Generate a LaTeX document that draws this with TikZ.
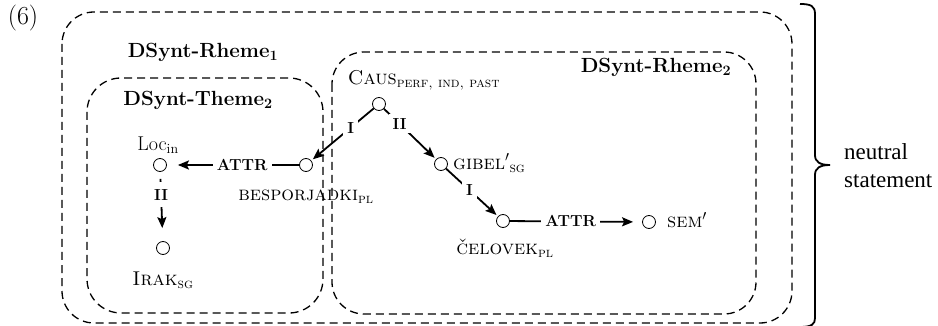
\documentclass[tikz,border=0pt]{standalone}
\usepackage{fontspec}
\newfontfamily\timesf{Liberation Serif}
\usetikzlibrary{arrows.meta}
\begin{document}
\begin{tikzpicture}[x=1pt,y=-1pt,
  dbox/.style={line width=1.3pt, dash pattern=on 8pt off 5pt},
  vert/.style={circle, draw, line width=0.8pt, minimum size=13pt, inner sep=0pt},
  lbl/.style={font=\fontsize{20}{23}\selectfont, inner sep=1pt},
  title/.style={font=\fontsize{20.5}{24}\selectfont\bfseries, inner sep=0pt},
  elabel/.style={font=\fontsize{16}{19}\selectfont\bfseries, fill=white, inner sep=4pt},
  rel/.style={line width=1.8pt, -{Stealth[length=11pt,width=9pt,inset=2pt]}}]
\useasboundingbox (0,0) rectangle (938,326);
% boxes
\draw[dbox, rounded corners=32pt] (62,12) rectangle (792,323);
\draw[dbox, rounded corners=32pt] (332,52) rectangle (756,314);
\draw[dbox, rounded corners=34pt] (87,78) rectangle (323,313);
% titles
\node at (23,18) {\fontsize{26}{30}\selectfont (6)};
\node[title] at (203,52) {DSynt-Rheme\textsubscript{1}};
\node[title] at (198,100) {DSynt-Theme\textsubscript{2}};
\node[title] at (656,67) {DSynt-Rheme\textsubscript{2}};
% vertices
\node[vert] (caus) at (379,104) {};
\node[vert] (besp) at (306,165) {};
\node[vert] (loc) at (160,165) {};
\node[vert] (irak) at (163,248) {};
\node[vert] (gibel) at (441,164) {};
\node[vert] (chel) at (503,221) {};
\node[vert] (sem) at (649,222) {};
% vertex labels
\node[lbl] (causl) at (424,80) {\textsc{Caus}\textsubscript{\textsc{perf, ind, past}}};
\node[lbl] (locl) at (158,145) {Loc\textsubscript{in}};
\node[lbl] (bespl) at (306,197) {\textsc{besporjadki}\textsubscript{\textsc{pl}}};
\node[lbl] (irakl) at (163,280) {\textsc{Irak}\textsubscript{\textsc{sg}}};
\node[lbl, anchor=west] (gibell) at (452,163) {\textsc{gibel}$'$\textsubscript{\textsc{sg}}};
\node[lbl] (chell) at (505,248) {\textsc{čelovek}\textsubscript{\textsc{pl}}};
\node[lbl, anchor=west] (seml) at (666,220) {\textsc{sem}$'$};
% relations
\draw[rel, shorten >=2pt] (caus) -- node[elabel, pos=0.37] {I} (besp);
\draw[rel, shorten >=2pt] (caus) -- node[elabel, pos=0.3] {II} (gibel);
\draw[rel, shorten >=11pt] (besp) -- node[elabel, pos=0.43] {ATTR} (loc);
\draw[rel, shorten <=7pt, shorten >=13pt] (loc) -- node[elabel, pos=0.33, inner ysep=7pt] {II} (irak);
\draw[rel, shorten >=2pt] (gibel) -- node[elabel, pos=0.45] {I} (chel);
\draw[rel, shorten >=9pt] (chel) -- node[elabel, pos=0.46] {ATTR} (sem);
% brace
\draw[line width=1.8pt] (800,4) .. controls (811,4) and (815,6) .. (815,14) -- (815,155) .. controls (815,162) and (820,165) .. (830,165);
\draw[line width=1.8pt] (830,165) .. controls (820,165) and (815,168) .. (815,175) -- (815,318) .. controls (815,324) and (812,327) .. (800,327);
\node[font=\timesf\fontsize{23}{28}\selectfont, align=left, anchor=west, inner sep=0pt] at (844,166) {neutral\\statement};
\end{tikzpicture}
\end{document}
